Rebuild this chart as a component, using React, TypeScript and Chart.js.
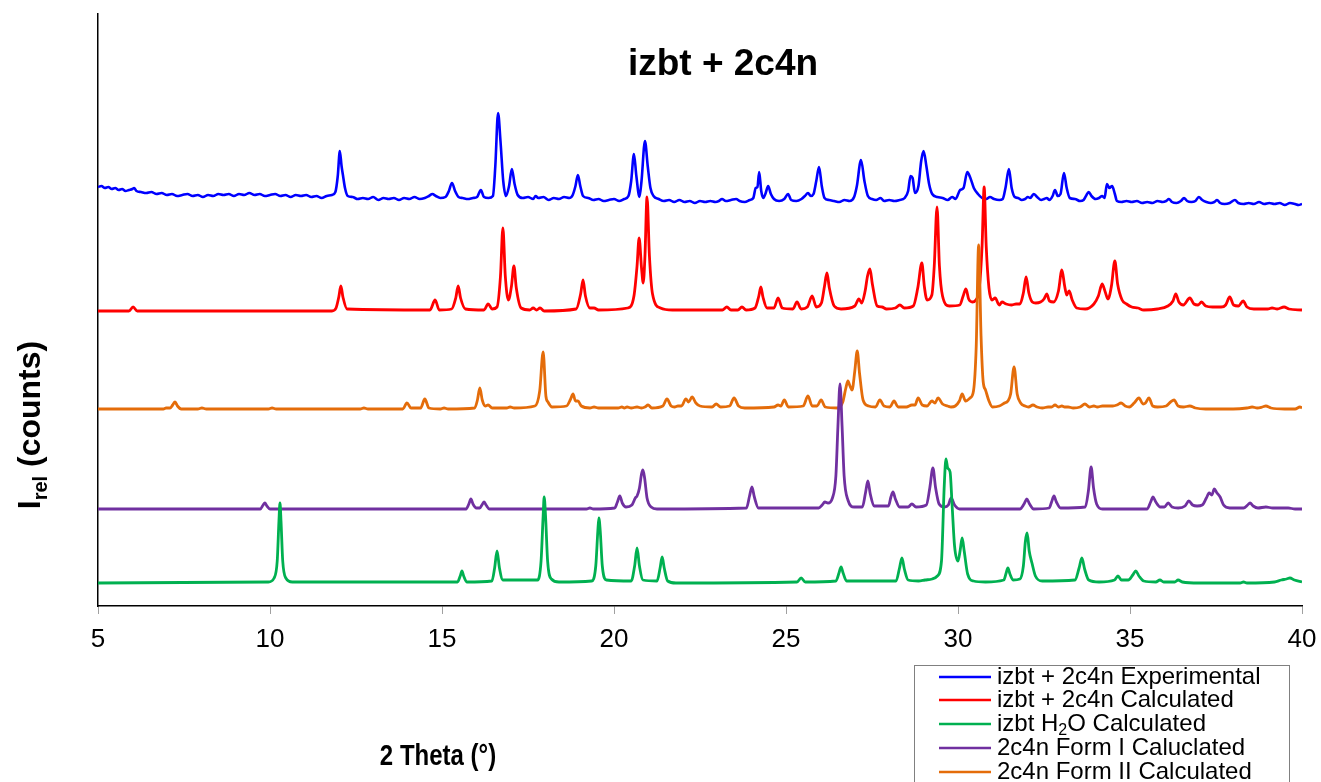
import React, { useEffect, useRef } from "react";
import { Chart, registerables } from "chart.js";

Chart.register(...registerables);

const FONT = '"Liberation Sans", Arial, sans-serif';
const NARROW = '"Liberation Sans Narrow", "Arial Narrow", "Liberation Sans", Arial, sans-serif';

const chartTitle = "izbt + 2c4n";
const xAxisTitle = "2 Theta (°)";
const xTicks = [5, 10, 15, 20, 25, 30, 35, 40];

const seriesNames = [
  "izbt + 2c4n Experimental",
  "izbt + 2c4n Calculated",
  "izbt H2O Calculated",
  "2c4n Form I Caluclated",
  "2c4n Form II Calculated",
];

// 2-theta / relative intensity (offset) pairs
const experimental: number[][] = [
  [5.00,419],[5.10,420],[5.20,418],[5.30,419],[5.40,417],[5.50,418],[5.60,416],[5.70,417],[5.80,415],[5.90,416],[6.00,417],[6.05,418],[6.12,415],[6.25,414],[6.40,413],[6.55,414],[6.70,412],[6.85,413],[7.00,411],[7.15,412],[7.30,410],[7.45,411],[7.60,412],[7.75,410],[7.90,411],[8.05,409],[8.20,411],[8.35,410],[8.50,412],[8.65,411],[8.80,412],[8.95,410],[9.10,412],[9.25,411],[9.40,413],[9.55,411],[9.70,412],[9.85,410],[10.00,411],[10.15,412],[10.30,410],[10.45,411],[10.60,409],[10.75,411],[10.90,410],[11.05,411],[11.20,409],[11.35,410],[11.50,408],[11.65,410],[11.80,411],[11.90,414],[11.97,430],[12.03,455],[12.08,440],[12.12,431],[12.18,418],[12.26,410],[12.40,409],[12.55,407],[12.70,408],[12.85,407],[13.00,409],[13.15,406],[13.30,408],[13.45,407],[13.60,408],[13.75,406],[13.90,408],[14.05,407],[14.20,409],[14.35,407],[14.50,408],[14.62,410],[14.72,412],[14.82,410],[14.95,408],[15.10,409],[15.20,415],[15.29,423],[15.38,415],[15.48,409],[15.60,408],[15.75,407],[15.90,408],[16.02,409],[16.13,416],[16.22,409],[16.35,408],[16.48,410],[16.55,440],[16.63,493],[16.70,465],[16.78,425],[16.86,410],[16.95,420],[17.03,437],[17.11,422],[17.20,411],[17.35,408],[17.50,409],[17.65,407],[17.72,410],[17.80,408],[17.95,409],[18.10,406],[18.25,408],[18.40,407],[18.55,409],[18.70,408],[18.80,411],[18.88,420],[18.95,431],[19.02,420],[19.10,410],[19.25,408],[19.40,406],[19.55,407],[19.70,405],[19.85,406],[20.00,407],[20.15,405],[20.30,407],[20.42,410],[20.50,425],[20.58,452],[20.65,430],[20.74,409],[20.80,425],[20.90,465],[20.98,440],[21.06,418],[21.15,410],[21.30,407],[21.45,405],[21.60,406],[21.75,404],[21.90,406],[22.05,404],[22.20,405],[22.35,403],[22.50,405],[22.65,404],[22.80,405],[22.95,404],[23.05,405],[23.14,407],[23.25,405],[23.40,406],[23.55,407],[23.65,405],[23.80,404],[23.95,406],[24.05,408],[24.12,418],[24.17,419],[24.22,434],[24.28,415],[24.34,408],[24.41,413],[24.48,420],[24.56,412],[24.65,407],[24.80,405],[24.95,407],[25.06,412],[25.15,406],[25.30,405],[25.45,407],[25.55,410],[25.64,413],[25.72,410],[25.80,412],[25.88,425],[25.96,439],[26.04,420],[26.12,408],[26.25,406],[26.40,405],[26.55,404],[26.70,406],[26.85,405],[26.98,409],[27.06,420],[27.18,446],[27.28,425],[27.38,410],[27.50,407],[27.62,406],[27.75,408],[27.85,405],[28.00,406],[28.15,405],[28.30,406],[28.45,408],[28.55,415],[28.62,430],[28.68,428],[28.75,413],[28.85,420],[28.93,445],[29.00,455],[29.08,440],[29.16,422],[29.25,412],[29.40,409],[29.55,408],[29.70,406],[29.83,409],[29.93,407],[30.06,416],[30.16,418],[30.27,434],[30.36,428],[30.46,418],[30.58,412],[30.70,408],[30.82,407],[30.93,409],[31.05,407],[31.20,406],[31.30,407],[31.38,418],[31.48,437],[31.56,418],[31.65,409],[31.75,408],[31.85,406],[31.95,407],[32.03,409],[32.10,408],[32.20,412],[32.30,409],[32.42,406],[32.50,407],[32.58,408],[32.66,406],[32.75,410],[32.82,416],[32.90,410],[32.98,412],[33.08,433],[33.16,418],[33.25,408],[33.40,407],[33.55,405],[33.65,406],[33.72,410],[33.80,414],[33.88,410],[34.00,407],[34.10,408],[34.19,410],[34.26,408],[34.33,422],[34.40,418],[34.48,420],[34.56,412],[34.62,405],[34.75,404],[34.90,405],[35.05,404],[35.20,405],[35.35,403],[35.50,404],[35.65,403],[35.80,405],[35.95,404],[36.05,405],[36.13,407],[36.22,404],[36.35,403],[36.48,405],[36.57,408],[36.66,405],[36.78,404],[36.90,405],[37.00,409],[37.10,406],[37.22,404],[37.35,403],[37.45,404],[37.53,406],[37.62,403],[37.75,402],[37.90,403],[38.05,406],[38.15,403],[38.30,402],[38.45,403],[38.60,402],[38.75,404],[38.90,402],[39.05,403],[39.20,402],[39.35,403],[39.50,401],[39.65,403],[39.80,402],[39.90,401],[40.00,402],
];

const calculated: number[][] = [
  [5.00,295],[5.90,295],[6.02,299],[6.14,295],[11.80,295],[11.92,298],[12.00,309],[12.06,320],[12.12,309],[12.24,297],[14.65,296],[14.80,306],[14.92,296],[15.28,297],[15.40,308],[15.47,320],[15.54,308],[15.68,297],[16.22,296],[16.34,302],[16.46,297],[16.60,299],[16.70,330],[16.77,378],[16.84,330],[16.93,306],[17.02,320],[17.09,340],[17.16,318],[17.30,298],[17.55,296],[17.65,298],[17.75,296],[17.85,298],[17.97,295],[18.90,297],[19.03,312],[19.10,326],[19.17,310],[19.30,298],[19.42,298],[19.55,296],[20.40,298],[20.58,310],[20.67,340],[20.73,368],[20.80,338],[20.85,323],[20.90,350],[20.96,409],[21.03,350],[21.12,312],[21.35,298],[21.70,296],[23.15,296],[23.28,299],[23.40,296],[23.60,296],[23.72,299],[23.84,296],[24.10,298],[24.21,310],[24.27,319],[24.33,309],[24.45,298],[24.65,298],[24.77,308],[24.89,298],[25.20,297],[25.32,304],[25.44,297],[25.62,299],[25.76,310],[25.88,299],[26.03,303],[26.12,320],[26.19,333],[26.26,318],[26.40,300],[26.60,297],[27.00,300],[27.12,307],[27.20,303],[27.30,315],[27.37,330],[27.44,337],[27.51,322],[27.65,300],[27.79,299],[27.92,297],[28.18,298],[28.31,301],[28.44,298],[28.70,300],[28.83,318],[28.95,343],[29.02,320],[29.10,306],[29.24,311],[29.31,340],[29.39,399],[29.46,340],[29.55,310],[29.75,300],[30.05,301],[30.15,310],[30.23,317],[30.31,307],[30.42,304],[30.52,306],[30.62,318],[30.70,360],[30.76,419],[30.82,360],[30.90,318],[30.99,306],[31.08,308],[31.20,301],[31.28,304],[31.40,302],[31.55,301],[31.69,302],[31.80,302],[31.90,313],[31.98,329],[32.06,313],[32.16,304],[32.26,303],[32.40,304],[32.50,307],[32.58,312],[32.66,305],[32.78,304],[32.92,315],[33.02,336],[33.10,320],[33.16,311],[33.23,315],[33.32,306],[33.45,298],[33.70,297],[33.95,302],[34.08,310],[34.19,322],[34.28,314],[34.36,307],[34.46,320],[34.56,345],[34.64,322],[34.77,306],[34.90,302],[35.05,299],[35.23,298],[35.40,296],[35.80,297],[36.10,300],[36.25,305],[36.33,312],[36.42,304],[36.55,301],[36.74,308],[36.86,302],[36.98,301],[37.08,304],[37.20,300],[37.40,299],[37.53,299],[37.65,299],[37.78,301],[37.90,309],[38.01,301],[38.15,300],[38.29,305],[38.40,299],[38.60,297],[39.00,297],[39.13,298],[39.28,297],[39.48,299],[39.62,297],[40.00,296],
];

const hydrate: number[][] = [
  [5.00,23],[9.95,24],[10.12,28],[10.21,45],[10.26,85],[10.29,103],[10.32,85],[10.37,45],[10.46,28],[10.65,24],[15.45,24],[15.53,30],[15.58,35],[15.63,30],[15.72,24],[16.45,25],[16.53,38],[16.60,55],[16.67,38],[16.77,26],[17.78,26],[17.88,45],[17.94,90],[17.97,109],[18.01,90],[18.07,45],[18.18,27],[18.40,24],[19.35,25],[19.47,40],[19.53,75],[19.56,88],[19.60,75],[19.66,40],[19.78,26],[20.50,25],[20.60,40],[20.67,58],[20.74,40],[20.84,26],[21.25,25],[21.34,38],[21.40,49],[21.46,38],[21.56,25],[21.80,23],[25.32,24],[25.44,28],[25.56,24],[26.45,25],[26.54,33],[26.60,39],[26.66,33],[26.76,25],[28.20,25],[28.30,38],[28.37,48],[28.44,37],[28.55,26],[28.85,25],[29.04,26],[29.25,27],[29.40,30],[29.52,45],[29.60,120],[29.65,147],[29.70,138],[29.77,134],[29.83,100],[29.90,60],[30.00,45],[30.06,55],[30.12,68],[30.18,55],[30.28,32],[30.45,25],[30.80,24],[31.33,26],[31.40,33],[31.45,38],[31.51,32],[31.60,26],[31.80,27],[31.90,40],[31.96,65],[32.01,73],[32.07,55],[32.15,43],[32.25,30],[32.45,25],[33.40,26],[33.52,38],[33.60,48],[33.68,37],[33.80,26],[34.10,24],[34.55,26],[34.65,30],[34.75,26],[34.95,26],[35.08,31],[35.17,35],[35.26,30],[35.40,25],[35.75,24],[35.87,26],[35.98,24],[36.30,24],[36.40,26],[36.52,24],[37.00,23],[38.20,23],[38.30,24],[38.40,23],[39.20,24],[39.40,26],[39.55,27],[39.65,28],[39.78,26],[40.00,24],
];

const formOne: number[][] = [
  [5.00,97],[9.72,97],[9.80,101],[9.85,103],[9.91,100],[10.00,97],[15.70,97],[15.78,102],[15.84,107],[15.90,102],[16.00,98],[16.10,98],[16.16,101],[16.22,104],[16.28,101],[16.38,97],[19.20,97],[19.30,98],[19.40,97],[20.02,98],[20.10,104],[20.17,110],[20.24,103],[20.35,99],[20.52,101],[20.62,108],[20.67,110],[20.74,118],[20.80,132],[20.84,136],[20.89,128],[20.96,108],[21.08,99],[21.25,97],[23.85,98],[23.94,110],[24.01,119],[24.08,109],[24.20,98],[25.95,98],[26.05,101],[26.13,104],[26.22,103],[26.35,108],[26.45,130],[26.51,180],[26.57,222],[26.63,180],[26.69,130],[26.80,106],[26.98,99],[27.22,99],[27.31,113],[27.38,125],[27.45,112],[27.56,100],[27.98,100],[28.05,109],[28.11,114],[28.18,107],[28.30,99],[28.55,99],[28.66,102],[28.78,99],[29.08,101],[29.18,118],[29.27,138],[29.35,118],[29.45,102],[29.60,99],[29.72,101],[29.80,108],[29.90,101],[30.05,97],[31.80,97],[31.92,102],[32.00,107],[32.08,102],[32.20,97],[32.65,98],[32.72,104],[32.79,110],[32.86,104],[32.98,98],[33.70,99],[33.79,115],[33.87,139],[33.94,118],[34.03,102],[34.20,97],[35.50,97],[35.60,104],[35.67,109],[35.75,104],[35.88,99],[36.00,99],[36.11,103],[36.22,99],[36.40,98],[36.60,100],[36.71,105],[36.82,101],[36.95,100],[37.10,101],[37.22,108],[37.30,113],[37.38,111],[37.45,117],[37.53,113],[37.62,109],[37.72,101],[37.90,98],[38.30,98],[38.42,101],[38.49,103],[38.58,100],[38.72,98],[38.95,99],[39.15,98],[39.60,98],[39.80,97],[40.00,97],
];

const formTwo: number[][] = [
  [5.00,197],[6.90,197],[6.98,198],[7.10,198],[7.17,201],[7.24,204],[7.31,200],[7.42,197],[7.90,197],[8.02,198],[8.15,197],[9.95,197],[10.06,198],[10.18,197],[12.62,197],[12.73,198],[12.85,197],[13.86,197],[13.98,203],[14.10,198],[14.38,198],[14.50,207],[14.62,198],[14.95,197],[15.06,198],[15.18,197],[15.95,198],[16.03,206],[16.10,218],[16.17,206],[16.26,200],[16.34,201],[16.46,198],[16.88,198],[16.98,199],[17.10,198],[17.70,200],[17.84,215],[17.94,254],[18.02,210],[18.08,204],[18.20,199],[18.62,200],[18.74,207],[18.81,212],[18.88,205],[18.95,205],[19.05,200],[19.30,198],[19.42,199],[19.55,198],[20.12,198],[20.23,199],[20.30,198],[20.38,199],[20.50,198],[20.67,199],[20.80,198],[20.90,199],[20.99,201],[21.10,198],[21.42,200],[21.54,207],[21.66,200],[21.76,199],[21.86,200],[21.96,200],[22.09,207],[22.17,204],[22.27,209],[22.38,203],[22.50,200],[22.85,199],[22.97,202],[23.10,199],[23.36,200],[23.49,208],[23.62,200],[23.80,198],[24.65,199],[24.77,201],[24.85,200],[24.95,206],[25.07,199],[25.50,200],[25.64,210],[25.76,200],[25.90,200],[26.02,206],[26.14,199],[26.50,198],[26.65,204],[26.74,218],[26.80,225],[26.86,220],[26.92,216],[27.00,235],[27.07,255],[27.14,232],[27.24,206],[27.40,200],[27.60,199],[27.73,206],[27.85,200],[28.02,199],[28.14,205],[28.26,199],[28.50,199],[28.66,201],[28.75,201],[28.84,208],[28.96,201],[29.10,200],[29.24,205],[29.33,203],[29.42,208],[29.55,202],[29.70,200],[29.80,199],[29.92,200],[30.04,205],[30.12,212],[30.22,205],[30.35,208],[30.45,215],[30.53,260],[30.60,361],[30.67,270],[30.73,225],[30.80,216],[30.90,205],[31.00,199],[31.20,200],[31.35,203],[31.45,205],[31.53,212],[31.63,239],[31.72,212],[31.82,203],[31.95,200],[32.05,199],[32.18,201],[32.30,199],[32.45,198],[32.62,199],[32.72,199],[32.82,201],[32.92,199],[33.02,200],[33.10,199],[33.20,199],[33.35,198],[33.55,199],[33.69,202],[33.82,199],[33.95,200],[34.05,199],[34.20,200],[34.33,200],[34.42,200],[34.50,200],[34.62,201],[34.74,203],[34.86,200],[34.98,199],[35.12,203],[35.26,208],[35.38,202],[35.45,203],[35.55,208],[35.66,200],[35.80,199],[36.05,200],[36.18,204],[36.28,206],[36.40,200],[36.55,199],[36.74,200],[36.90,198],[37.20,197],[38.00,197],[38.40,198],[38.55,199],[38.70,198],[38.85,199],[38.95,200],[39.10,198],[39.50,197],[39.80,197],[39.94,199],[40.00,198],
];

const seriesColors = ["#0000FF", "#FF0000", "#00B050", "#7030A0", "#E46C0A"];
const seriesWidths = [2.6, 2.8, 2.8, 2.8, 2.8];
const seriesData = [experimental, calculated, hydrate, formOne, formTwo];
// drawing order (lower = on top)
const seriesOrder = [5, 4, 1, 2, 3];

const overlayPlugin = {
  id: "overlay",
  afterDraw(chart: any) {
    const ctx = chart.ctx as CanvasRenderingContext2D;
    ctx.save();
    ctx.fillStyle = "#000";

    // title
    ctx.font = `bold 37px ${FONT}`;
    ctx.textAlign = "center";
    ctx.textBaseline = "alphabetic";
    ctx.fillText(chartTitle, 723, 75);

    // x axis title (condensed like the original)
    ctx.save();
    ctx.translate(438, 757);
    ctx.scale(0.8, 1);
    ctx.font = `bold 30px ${FONT}`;
    ctx.textAlign = "center";
    ctx.textBaseline = "middle";
    ctx.fillText(xAxisTitle, 0, 0);
    ctx.restore();

    // y axis title with subscript
    ctx.save();
    ctx.translate(31, 425);
    ctx.rotate(-Math.PI / 2);
    ctx.textAlign = "left";
    ctx.textBaseline = "middle";
    const big = `bold 32px ${FONT}`;
    const small = `bold 20px ${FONT}`;
    ctx.font = big;
    const wI = ctx.measureText("I").width;
    const wRest = ctx.measureText(" (counts)").width;
    ctx.font = small;
    const wSub = ctx.measureText("rel").width;
    let x0 = -(wI + wSub + wRest) / 2;
    ctx.font = big;
    ctx.fillText("I", x0, 0);
    x0 += wI;
    ctx.font = small;
    ctx.fillText("rel", x0, 10);
    x0 += wSub;
    ctx.font = big;
    ctx.fillText(" (counts)", x0, 0);
    ctx.restore();

    // legend
    ctx.strokeStyle = "#808080";
    ctx.lineWidth = 1;
    ctx.strokeRect(914.5, 665.5, 375, 140);
    const legendOrder = [0, 1, 2, 3, 4];
    const rowY = [677, 700, 724, 748, 772];
    legendOrder.forEach((si, i) => {
      const y = rowY[i];
      ctx.strokeStyle = seriesColors[si];
      ctx.lineWidth = 2.5;
      ctx.beginPath();
      ctx.moveTo(939, y);
      ctx.lineTo(991, y);
      ctx.stroke();
      ctx.fillStyle = "#000";
      ctx.textAlign = "left";
      ctx.textBaseline = "middle";
      const norm = `24px ${FONT}`;
      if (si === 2) {
        let tx = 997;
        ctx.font = norm;
        ctx.fillText("izbt H", tx, y);
        tx += ctx.measureText("izbt H").width;
        ctx.font = `16px ${FONT}`;
        ctx.fillText("2", tx, y + 7);
        tx += ctx.measureText("2").width;
        ctx.font = norm;
        ctx.fillText("O Calculated", tx, y);
      } else {
        ctx.font = norm;
        ctx.fillText(seriesNames[si], 997, y);
      }
    });
    ctx.restore();
  },
};

export default function App() {
  const canvasRef = useRef<HTMLCanvasElement | null>(null);

  useEffect(() => {
    if (!canvasRef.current) return;
    const chart = new Chart(canvasRef.current, {
      type: "line",
      data: {
        datasets: seriesData.map((arr, i) => ({
          label: seriesNames[i],
          data: arr.map((p) => ({ x: p[0], y: p[1] })),
          borderColor: seriesColors[i],
          backgroundColor: seriesColors[i],
          borderWidth: seriesWidths[i],
          pointRadius: 0,
          cubicInterpolationMode: "monotone",
          fill: false,
          order: seriesOrder[i],
        })),
      },
      options: {
        responsive: false,
        animation: false,
        events: [],
        devicePixelRatio: 1,
        layout: { padding: { left: 0, right: 19, top: 14, bottom: 0 } },
        plugins: {
          legend: { display: false },
          title: { display: false },
          tooltip: { enabled: false },
        },
        scales: {
          x: {
            type: "linear",
            min: 5,
            max: 40,
            afterBuildTicks: (scale: any) => {
              scale.ticks = xTicks.map((v) => ({ value: v }));
            },
            ticks: {
              color: "#000",
              font: { size: 26, family: NARROW },
              padding: 10,
              maxRotation: 0,
              autoSkip: false,
            },
            grid: {
              display: true,
              drawOnChartArea: false,
              drawTicks: true,
              tickLength: 8,
              color: "#a0a0a0",
              lineWidth: 1,
            },
            border: { display: true, color: "#000", width: 1.5 },
            afterFit: (scale: any) => {
              scale.height = 176;
              scale.paddingLeft = 0;
              scale.paddingRight = 0;
            },
          },
          y: {
            type: "linear",
            min: 0,
            max: 592,
            ticks: { display: false },
            grid: { display: false },
            border: { display: true, color: "#000", width: 1.5 },
            afterFit: (scale: any) => {
              scale.width = 98;
            },
          },
        },
      },
      plugins: [overlayPlugin],
    });
    return () => chart.destroy();
  }, []);

  return (
    <div style={{ position: "absolute", left: 0, top: 0, width: 1321, height: 782, background: "#fff" }}>
      <canvas ref={canvasRef} width={1321} height={782} style={{ display: "block" }} />
    </div>
  );
}
